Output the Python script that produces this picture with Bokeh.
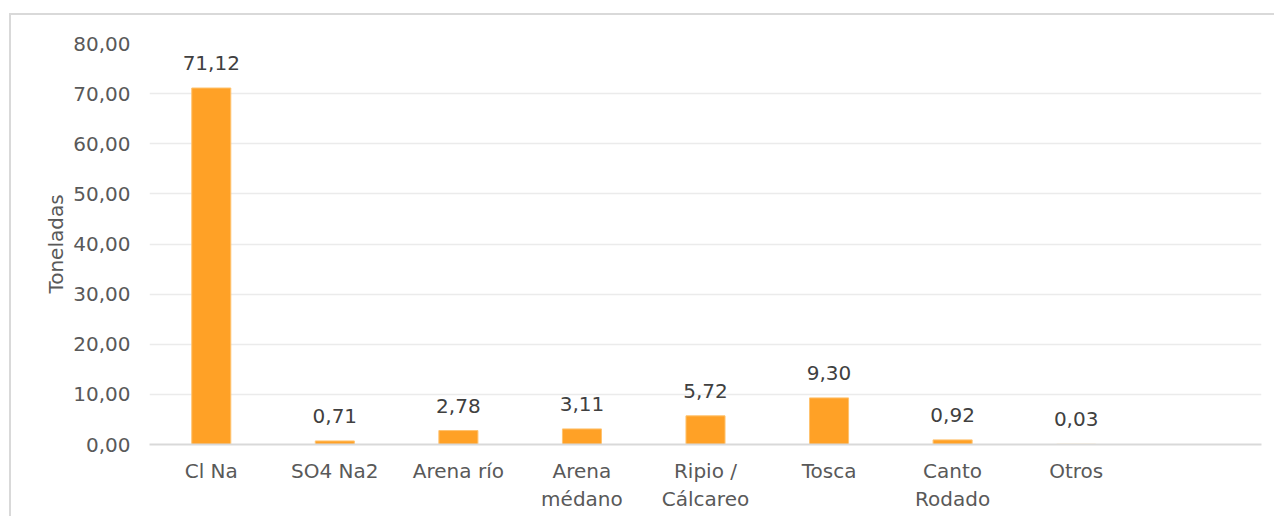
from bokeh.plotting import figure
from bokeh.models import ColumnDataSource, LabelSet, FixedTicker, Range1d
from bokeh.core.properties import value
from bokeh.embed import file_html
from bokeh.resources import INLINE

categories = ["Cl Na", "SO4 Na2", "Arena río", "Arena\nmédano", "Ripio /\nCálcareo",
              "Tosca", "Canto\nRodado", "Otros"]
values = [71.12, 0.71, 2.78, 3.11, 5.72, 9.30, 0.92, 0.03]
y_ticks = [0, 10, 20, 30, 40, 50, 60, 70, 80]
y_tick_labels = ["0,00", "10,00", "20,00", "30,00", "40,00", "50,00", "60,00", "70,00", "80,00"]
n_slots = 9  # the category axis has one empty slot at the right

FONT = "DejaVu Sans"
LABEL_COLOR = "#595959"
BAR_COLOR = "#FFA126"

xs = list(range(len(categories)))
src = ColumnDataSource(dict(
    x=xs,
    top=values,
    lab=[f"{v:.2f}".replace(".", ",") for v in values],
))

p = figure(width=1265, height=503, output_backend="svg", toolbar_location=None,
           x_range=Range1d(-0.5, n_slots - 0.5), y_range=Range1d(0, 80),
           min_border_left=138, min_border_right=15, min_border_top=28, min_border_bottom=74)
p.styles = {"margin-left": "9px", "margin-top": "13px",
            "border-left": "2px solid #D9D9D9", "border-top": "2px solid #D9D9D9"}
p.outline_line_color = None
p.background_fill_color = "white"

p.vbar(x="x", top="top", bottom=0, width=0.316, source=src,
       fill_color=BAR_COLOR, line_color="#FFC36F", line_width=1)

labels = LabelSet(x="x", y="top", text="lab", source=src, text_align="center",
                  text_baseline="bottom", y_offset=18, text_font=value(FONT),
                  text_font_size=value("20px"), text_color="#404040")
p.add_layout(labels)

p.xgrid.grid_line_color = None
p.ygrid.grid_line_color = "#EBEBEB"
p.ygrid.grid_line_width = 1.5
p.ygrid.ticker = FixedTicker(ticks=y_ticks)

p.yaxis.ticker = FixedTicker(ticks=y_ticks)
p.yaxis.major_label_overrides = {t: l for t, l in zip(y_ticks, y_tick_labels)}
p.yaxis.axis_line_color = None
p.yaxis.major_tick_line_color = None
p.yaxis.minor_tick_line_color = None
p.yaxis.major_label_standoff = 13
p.yaxis.axis_label = "Toneladas"
p.yaxis.axis_label_standoff = 2
p.yaxis.axis_label_text_font = FONT
p.yaxis.axis_label_text_font_size = "20px"
p.yaxis.axis_label_text_font_style = "normal"
p.yaxis.axis_label_text_color = LABEL_COLOR

p.xaxis.ticker = FixedTicker(ticks=xs)
p.xaxis.major_label_overrides = {i: c for i, c in zip(xs, categories)}
p.xaxis.axis_line_color = "#D9D9D9"
p.xaxis.axis_line_width = 2
p.xaxis.major_tick_line_color = None
p.xaxis.minor_tick_line_color = None
p.xaxis.major_label_standoff = 8

for ax in (p.xaxis, p.yaxis):
    ax.major_label_text_font = FONT
    ax.major_label_text_font_size = "20px"
    ax.major_label_text_color = LABEL_COLOR

open("out.html", "w").write(file_html(p, INLINE))
